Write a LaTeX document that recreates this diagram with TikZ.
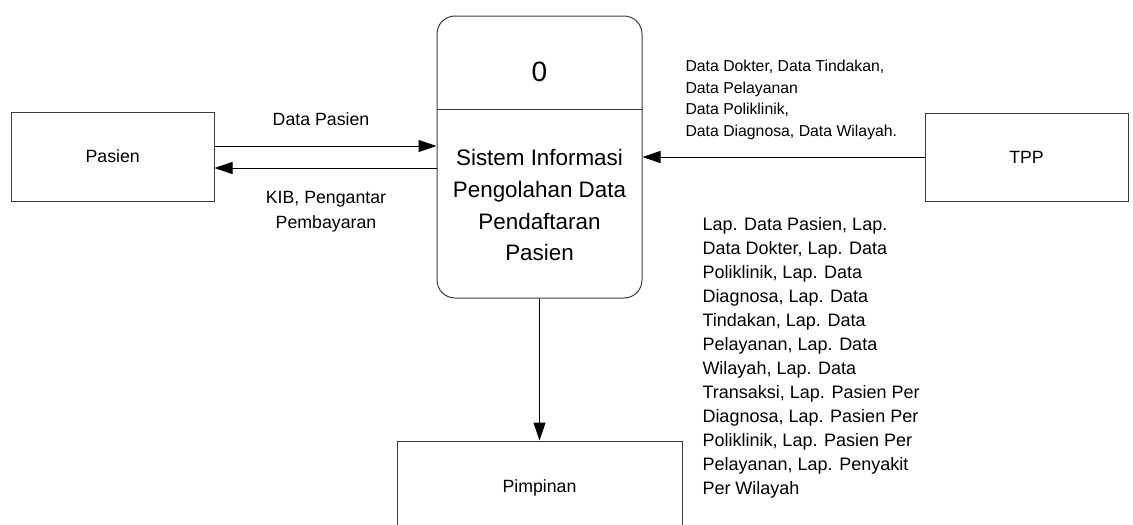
\documentclass[tikz,border=0pt]{standalone}
\usepackage{fontspec}
\setmainfont{Liberation Sans}
\usetikzlibrary{arrows.meta}
\definecolor{dfdline}{RGB}{60,60,60}

\begin{document}
\begin{tikzpicture}[x=0.75pt,y=-0.75pt,line width=0.75pt,>={Triangle[length=13.5pt,width=9pt]},
  entitas/.style={draw=dfdline,inner sep=0pt,font=\fontsize{13.3}{16}\selectfont},
  aliran/.style={inner sep=0pt,font=\fontsize{13.3}{18.75}\selectfont}]
  \useasboundingbox (0,0) rectangle (1133,525);
  \coordinate (dp) at (0,146);
  \coordinate (kib) at (0,168);
  % entitas luar
  \node[entitas,minimum width=151.9pt,minimum height=66.75pt] (pasien) at (112.75,156.5) {Pasien};
  \node[entitas,minimum width=152.25pt,minimum height=66pt] (tpp) at (1026.5,157) {TPP};
  \node[entitas,minimum width=213.75pt,minimum height=70.5pt] (pimpinan) at (539.5,488) {Pimpinan};
  % proses 0
  \node[draw=dfdline,rounded corners=13.5pt,minimum width=153.75pt,minimum height=211.5pt] (proses) at (539.5,157) {};
  \draw[dfdline] ([yshift=-70.5pt]proses.north west) -- ([yshift=-70.5pt]proses.north east);
  \node[inner sep=0pt,font=\fontsize{21}{24}\selectfont] (nomor) at (539.5,72) {0};
  \node[inner sep=0pt,anchor=north,align=center,font=\fontsize{16.8}{23.8}\selectfont] (namaproses) at (539.5,149)
    {Sistem Informasi\\Pengolahan Data\\Pendaftaran\\Pasien};
  % aliran data
  \draw[->] (pasien.east |- dp) -- (proses.west |- dp);
  \draw[->] (proses.west |- kib) -- (pasien.east |- kib);
  \draw[->] (tpp.west) -- (proses.east |- tpp.west);
  \draw[->] (proses.south) -- (pimpinan.north);
  \node[aliran,anchor=base] (lbpasien) at (321,125.3) {Data Pasien};
  \node[aliran,anchor=north,align=center] (lbkib) at (326,190.5) {KIB, Pengantar\\Pembayaran};
  \node[inner sep=0pt,anchor=north west,align=left,font=\fontsize{11.85}{16.3}\selectfont] (lbtpp) at (685,59.5)
    {Data Dokter, Data Tindakan,\\Data Pelayanan\\Data Poliklinik,\\Data Diagnosa, Data Wilayah.};
  \node[inner sep=0pt,anchor=north west,align=left,font=\fontsize{13.5}{18}\selectfont] (lblap) at (702,216.5)
    {Lap. Data Pasien, Lap.\\Data Dokter, Lap. Data\\Poliklinik, Lap. Data\\Diagnosa, Lap. Data\\
     Tindakan, Lap. Data\\Pelayanan, Lap. Data\\Wilayah, Lap. Data\\Transaksi, Lap. Pasien Per\\
     Diagnosa, Lap. Pasien Per\\Poliklinik, Lap. Pasien Per\\Pelayanan, Lap. Penyakit\\Per Wilayah};
\end{tikzpicture}
\end{document}
